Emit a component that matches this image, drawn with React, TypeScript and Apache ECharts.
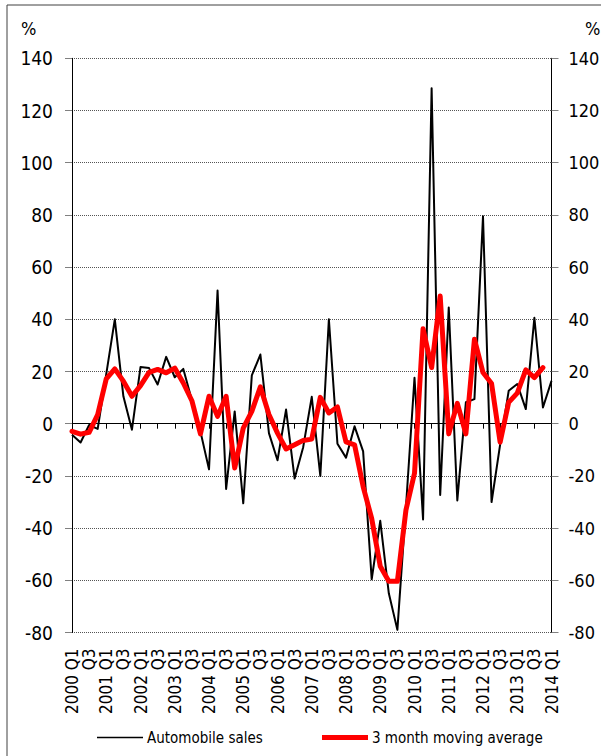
import React, { useEffect, useRef } from "react";
import * as echarts from "echarts";

const years = [2000, 2001, 2002, 2003, 2004, 2005, 2006, 2007, 2008, 2009, 2010, 2011, 2012, 2013, 2014];
const quarters: string[] = [];
years.forEach((y) => {
  ["Q1", "Q2", "Q3", "Q4"].forEach((q) => {
    if (y < 2014 || q === "Q1") quarters.push(y + " " + q);
  });
});

const automobileSales = [
  -4.2, -7.2, -0.5, -2, 19, 40, 10.5, -2.3, 21.7, 21.3, 15, 25.6, 17.8, 21,
  9, -3, -17.5, 51, -25, 4.7, -30.5, 18.5, 26.5, -3.6, -14, 5.4, -21, -9,
  10.3, -20, 40, -7.7, -13, -1, -10.6, -59.6, -37.2, -65, -79, -32, 17.6, -36.7,
  128.5, -27.3, 44.5, -29.4, 8.2, 9.4, 79.5, -30, -8, 12.6, 15.2, 5.6, 40.6, 6.2, 16.4,
];

const movingAverage = [
  -2.9, -4, -3.3, 3.5, 17.2, 21, 16.3, 10.5, 14.6, 19.7, 20.8, 19.5, 21.3, 15.6,
  8.8, -3.9, 10.5, 2.8, 10.5, -17, -1.7, 4.7, 14.1, 3.5, -3.6, -9.7, -8.1, -6.4,
  -5.9, 10.1, 4.1, 6.4, -7, -8.1, -24.1, -36.3, -54.6, -60.4, -60.4, -33.1, -19, 36.4,
  21.5, 48.9, -3.9, 7.8, -3.9, 32.4, 19.6, 15.4, -7.1, 8.2, 11.7, 20.6, 17.7, 21.5, null,
];

const seriesNames = ["Automobile sales", "3 month moving average"];

const yMin = -80;
const yMax = 140;
const yStep = 20;

const FONT = "DejaVu Sans Condensed";

export default function App() {
  const ref = useRef<HTMLDivElement>(null);

  useEffect(() => {
    if (!ref.current) return;
    const chart = echarts.init(ref.current, undefined, { renderer: "svg" });

    const xLabelFmt = (v: string) => {
      const [y, q] = v.split(" ");
      return q === "Q1" ? y + " Q1" : q;
    };

    const yAxisBase = {
      type: "value" as const,
      min: yMin,
      max: yMax,
      interval: yStep,
      axisLine: { show: true, lineStyle: { color: "#000", width: 1 } },
      axisTick: { show: true, length: 7, lineStyle: { color: "#808080", width: 1 } },
    };

    const legendCommon = {
      top: 730,
      padding: 0,
      itemGap: 0,
      itemWidth: 46,
      itemHeight: 14,
      textStyle: { color: "#000", fontSize: 15, fontFamily: FONT, padding: [0, 0, 0, -1] },
    };

    chart.setOption({
      animation: false,
      backgroundColor: "#fff",
      textStyle: { fontFamily: FONT },
      grid: {
        left: 72,
        right: 49.5,
        top: 58.3,
        bottom: 123.5,
        containLabel: false,
        outerBoundsMode: "none",
      },
      legend: [
        {
          ...legendCommon,
          left: 97,
          data: [
            { name: seriesNames[0], icon: "path://M0,6.5 L46,6.5 L46,8 L0,8 Z", itemStyle: { color: "#000" } },
          ],
        },
        {
          ...legendCommon,
          left: 322,
          data: [
            { name: seriesNames[1], icon: "path://M0,5 L46,5 L46,10 L0,10 Z", itemStyle: { color: "#ff0000" } },
          ],
        },
      ],
      xAxis: [
        {
          type: "category",
          data: quarters,
          boundaryGap: false,
          position: "bottom",
          axisLine: { show: false, onZero: false },
          axisTick: { show: false },
          splitLine: { show: false },
          axisLabel: {
            rotate: 90,
            interval: 1,
            margin: 16,
            color: "#000",
            fontSize: 17,
            fontFamily: FONT,
            formatter: xLabelFmt,
            hideOverlap: false,
          },
        },
        {
          type: "category",
          data: quarters,
          boundaryGap: false,
          position: "bottom",
          axisLine: { show: true, onZero: true, lineStyle: { color: "#000", width: 1 } },
          axisTick: { show: true, interval: 1, length: 5, lineStyle: { color: "#000", width: 1 } },
          axisLabel: { show: false },
          splitLine: { show: false },
        },
      ],
      yAxis: [
        {
          ...yAxisBase,
          position: "left",
          axisLabel: { color: "#000", fontSize: 19, fontFamily: FONT, margin: 19 },
          splitLine: { show: true, lineStyle: { color: "#555", type: "dotted", width: 1 } },
        },
        {
          ...yAxisBase,
          position: "right",
          axisLabel: { color: "#000", fontSize: 18, fontFamily: FONT, margin: 17 },
          splitLine: { show: false },
        },
      ],
      graphic: [
        {
          type: "rect",
          shape: { x: 7, y: 5, width: 700, height: 800 },
          style: { fill: "none", stroke: "#404040", lineWidth: 1 },
          silent: true,
        },
        {
          type: "text",
          left: 21,
          top: 19,
          style: { text: "%", fill: "#000", fontSize: 18, fontFamily: FONT },
        },
        {
          type: "text",
          left: 585,
          top: 19,
          style: { text: "%", fill: "#000", fontSize: 18, fontFamily: FONT },
        },
      ],
      series: [
        {
          name: seriesNames[0],
          type: "line",
          xAxisIndex: 0,
          yAxisIndex: 0,
          data: automobileSales,
          symbol: "none",
          lineStyle: { color: "#000", width: 2, join: "round" },
          itemStyle: { color: "#000" },
          z: 2,
        },
        {
          name: seriesNames[1],
          type: "line",
          xAxisIndex: 0,
          yAxisIndex: 0,
          data: movingAverage,
          symbol: "none",
          connectNulls: false,
          lineStyle: { color: "#ff0000", width: 5, join: "round", cap: "round" },
          itemStyle: { color: "#ff0000" },
          z: 3,
        },
      ],
    });

    return () => chart.dispose();
  }, []);

  return (
    <div
      ref={ref}
      style={{ position: "fixed", left: 0, top: 0, width: 601, height: 756, background: "#fff" }}
    />
  );
}
